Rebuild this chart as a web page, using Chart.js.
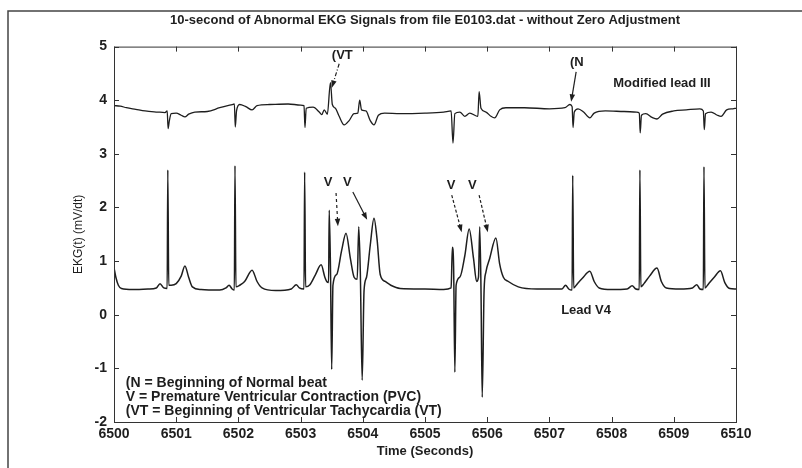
<!DOCTYPE html>
<html>
<head>
<meta charset="utf-8">
<script src="https://cdn.jsdelivr.net/npm/chart.js@4.4.1/dist/chart.umd.min.js"></script>
<style>
  html, body { margin: 0; padding: 0; background: #fff; }
  canvas { display: block; }
</style>
</head>
<body>
<canvas id="ekgChart" width="802" height="468"></canvas>
<script>
// Modified lead III (upper trace)
const leadIIITime = [
  6500.00, 6500.10, 6500.20, 6500.35, 6500.50, 6500.70, 6500.82, 6500.855, 6500.87, 6500.89,
  6500.92, 6501.00, 6501.08, 6501.14, 6501.20, 6501.30, 6501.50, 6501.70, 6501.90, 6501.935,
  6501.95, 6501.97, 6502.02, 6502.12, 6502.22, 6502.30, 6502.50, 6502.80, 6503.00, 6503.055,
  6503.07, 6503.09, 6503.20, 6503.30, 6503.34, 6503.38, 6503.43, 6503.48, 6503.51, 6503.56,
  6503.62, 6503.70, 6503.78, 6503.86, 6503.92, 6503.95, 6503.98, 6504.05, 6504.12, 6504.18,
  6504.25, 6504.35, 6504.60, 6505.00, 6505.30, 6505.42, 6505.45, 6505.48, 6505.56, 6505.64,
  6505.72, 6505.85, 6505.87, 6505.90, 6505.98, 6506.06, 6506.12, 6506.20, 6506.30, 6506.60,
  6507.00, 6507.25, 6507.33, 6507.365, 6507.38, 6507.40, 6507.46, 6507.55, 6507.65, 6507.72,
  6507.90, 6508.20, 6508.40, 6508.445, 6508.46, 6508.48, 6508.55, 6508.65, 6508.73, 6508.82,
  6509.00, 6509.20, 6509.42, 6509.475, 6509.49, 6509.51, 6509.60, 6509.70, 6509.76, 6509.85,
  6509.95, 6510.00
];
const leadIIIValues = [
  3.90, 3.89, 3.86, 3.83, 3.80, 3.78, 3.77, 3.80, 3.47, 3.62,
  3.75, 3.76, 3.72, 3.69, 3.74, 3.78, 3.79, 3.86, 3.92, 3.93,
  3.50, 3.80, 3.92, 3.88, 3.82, 3.90, 3.92, 3.93, 3.91, 3.90,
  3.49, 3.85, 3.87, 3.78, 3.73, 3.82, 3.74, 4.33, 3.92, 3.85,
  3.70, 3.54, 3.62, 3.75, 3.76, 4.00, 3.82, 3.80, 3.62, 3.54,
  3.72, 3.76, 3.75, 3.76, 3.78, 3.80, 3.20, 3.75, 3.78, 3.70,
  3.76, 3.70, 4.16, 3.85, 3.78, 3.70, 3.67, 3.82, 3.86, 3.86,
  3.84, 3.86, 3.92, 3.88, 3.49, 3.78, 3.84, 3.78, 3.67, 3.76,
  3.80, 3.79, 3.78, 3.76, 3.39, 3.72, 3.75, 3.68, 3.65, 3.74,
  3.80, 3.82, 3.84, 3.80, 3.45, 3.75, 3.78, 3.72, 3.70, 3.82,
  3.84, 3.85
];

// Lead V4 (lower trace)
const leadV4Time = [
  6500.00, 6500.03, 6500.07, 6500.12, 6500.30, 6500.55, 6500.68, 6500.74, 6500.80, 6500.855,
  6500.865, 6500.88, 6500.92, 6501.00, 6501.08, 6501.14, 6501.20, 6501.26, 6501.40, 6501.70,
  6501.80, 6501.85, 6501.90, 6501.935, 6501.945, 6501.96, 6502.02, 6502.10, 6502.22, 6502.30,
  6502.38, 6502.60, 6502.85, 6502.93, 6502.98, 6503.055, 6503.065, 6503.08, 6503.15, 6503.24,
  6503.33, 6503.39, 6503.42, 6503.45, 6503.46, 6503.48, 6503.50, 6503.52, 6503.58, 6503.66,
  6503.73, 6503.80, 6503.86, 6503.91, 6503.935, 6503.96, 6503.99, 6504.02, 6504.06, 6504.12,
  6504.18, 6504.23, 6504.28, 6504.36, 6504.45, 6504.60, 6505.00, 6505.30, 6505.42, 6505.44,
  6505.46, 6505.48, 6505.50, 6505.56, 6505.64, 6505.71, 6505.78, 6505.83, 6505.86, 6505.88,
  6505.90, 6505.92, 6505.95, 6505.98, 6506.04, 6506.14, 6506.20, 6506.26, 6506.34, 6506.50,
  6506.80, 6507.20, 6507.26, 6507.31, 6507.365, 6507.375, 6507.39, 6507.45, 6507.53, 6507.65,
  6507.72, 6507.80, 6508.00, 6508.25, 6508.33, 6508.39, 6508.445, 6508.455, 6508.47, 6508.52,
  6508.61, 6508.73, 6508.80, 6508.88, 6509.10, 6509.30, 6509.37, 6509.42, 6509.475, 6509.485,
  6509.50, 6509.56, 6509.65, 6509.75, 6509.82, 6509.90, 6510.00
];
const leadV4Values = [
  0.88, 0.70, 0.55, 0.49, 0.47, 0.48, 0.50, 0.58, 0.50, 0.49,
  2.70, 0.55, 0.55, 0.58, 0.72, 0.91, 0.70, 0.52, 0.47, 0.46,
  0.50, 0.55, 0.48, 0.46, 2.78, 0.52, 0.55, 0.62, 0.83, 0.62,
  0.50, 0.45, 0.48, 0.56, 0.50, 0.48, 2.66, 0.52, 0.56, 0.75,
  0.93, 0.70, 0.62, 0.60, 1.95, 0.90, -1.02, 0.55, 0.75, 1.20,
  1.52, 1.05, 0.70, 0.66, 1.64, 0.80, -1.22, 0.45, 0.70, 1.30,
  1.80, 1.40, 0.75, 0.62, 0.55, 0.49, 0.48, 0.47, 0.50, 1.26,
  0.90, -1.07, 0.55, 0.70, 1.10, 1.60, 1.05, 0.62, 0.70, 1.64,
  0.50, -1.54, 0.45, 0.80, 1.05, 1.43, 0.95, 0.70, 0.62, 0.52,
  0.48, 0.48, 0.55, 0.48, 0.46, 2.60, 0.50, 0.58, 0.68, 0.81,
  0.62, 0.50, 0.47, 0.48, 0.54, 0.48, 0.47, 2.70, 0.52, 0.58,
  0.72, 0.87, 0.62, 0.50, 0.48, 0.50, 0.56, 0.48, 0.47, 2.76,
  0.50, 0.58, 0.70, 0.82, 0.60, 0.49, 0.48
];

const xTickValues = [6500, 6501, 6502, 6503, 6504, 6505, 6506, 6507, 6508, 6509, 6510];
const yTickValues = [-2, -1, 0, 1, 2, 3, 4, 5];

const chartTitle = "10-second of Abnormal EKG Signals from file E0103.dat - without Zero Adjustment";
const legendLines = [
  "(N = Beginning of Normal beat",
  "V = Premature Ventricular Contraction (PVC)",
  "(VT = Beginning of Ventricular Tachycardia (VT)"
];

// text labels placed in data coordinates
const labels = [
  { text: "(VT", x: 6503.67, y: 4.83 },
  { text: "(N", x: 6507.44, y: 4.70 },
  { text: "Modified lead III", x: 6508.81, y: 4.31 },
  { text: "Lead V4", x: 6507.59, y: 0.08 },
  { text: "V", x: 6503.44, y: 2.46 },
  { text: "V", x: 6503.75, y: 2.46 },
  { text: "V", x: 6505.42, y: 2.42 },
  { text: "V", x: 6505.76, y: 2.42 }
];
const arrows = [
  { x0: 6503.62, y0: 4.68, x1: 6503.50, y1: 4.23, dash: [4, 2, 1, 2] },
  { x0: 6507.43, y0: 4.53, x1: 6507.35, y1: 3.97, dash: [] },
  { x0: 6503.57, y0: 2.27, x1: 6503.60, y1: 1.65, dash: [3, 3] },
  { x0: 6503.84, y0: 2.29, x1: 6504.07, y1: 1.77, dash: [] },
  { x0: 6505.43, y0: 2.23, x1: 6505.59, y1: 1.54, dash: [3, 2] },
  { x0: 6505.87, y0: 2.23, x1: 6506.01, y1: 1.54, dash: [3, 2] }
];

const ink = "#1e1e1e";
const fontFamily = "'Liberation Sans', Arial, sans-serif";

// frame, box and inward ticks on all four sides (MATLAB look)
const framePlugin = {
  id: "frame",
  beforeDraw(chart) {
    const { ctx } = chart;
    ctx.save();
    ctx.fillStyle = "#fff";
    ctx.fillRect(0, 0, chart.width, chart.height);
    ctx.strokeStyle = "#444";
    ctx.lineWidth = 1.5;
    ctx.strokeRect(8, 11, chart.width + 20, chart.height + 20);
    ctx.restore();
  },
  afterDatasetsDraw(chart) {
    const { ctx, chartArea: a, scales } = chart;
    ctx.save();
    ctx.strokeStyle = "#333";
    ctx.lineWidth = 1;
    ctx.strokeRect(a.left + 0.5, a.top + 0.5, a.right - a.left, a.bottom - a.top);
    ctx.beginPath();
    xTickValues.forEach(v => {
      const px = Math.round(scales.x.getPixelForValue(v)) + 0.5;
      ctx.moveTo(px, a.bottom); ctx.lineTo(px, a.bottom - 5);
      ctx.moveTo(px, a.top); ctx.lineTo(px, a.top + 5);
    });
    yTickValues.forEach(v => {
      const py = Math.round(scales.y.getPixelForValue(v)) + 0.5;
      ctx.moveTo(a.left, py); ctx.lineTo(a.left + 5, py);
      ctx.moveTo(a.right, py); ctx.lineTo(a.right - 5, py);
    });
    ctx.stroke();
    ctx.restore();
  }
};

const notesPlugin = {
  id: "notes",
  afterDatasetsDraw(chart) {
    const { ctx, scales } = chart;
    const sx = v => scales.x.getPixelForValue(v);
    const sy = v => scales.y.getPixelForValue(v);
    ctx.save();
    ctx.fillStyle = ink;
    ctx.strokeStyle = ink;
    ctx.font = "bold 13px " + fontFamily;
    ctx.textAlign = "center";
    ctx.textBaseline = "middle";
    labels.forEach(l => ctx.fillText(l.text, sx(l.x), sy(l.y)));

    arrows.forEach(a => {
      const x0 = sx(a.x0), y0 = sy(a.y0), x1 = sx(a.x1), y1 = sy(a.y1);
      const ang = Math.atan2(y1 - y0, x1 - x0);
      ctx.lineWidth = 1.2;
      ctx.setLineDash(a.dash);
      ctx.beginPath();
      ctx.moveTo(x0, y0);
      ctx.lineTo(x1 - 6 * Math.cos(ang), y1 - 6 * Math.sin(ang));
      ctx.stroke();
      ctx.setLineDash([]);
      ctx.beginPath();
      ctx.moveTo(x1, y1);
      ctx.lineTo(x1 - 8 * Math.cos(ang - 0.35), y1 - 8 * Math.sin(ang - 0.35));
      ctx.lineTo(x1 - 8 * Math.cos(ang + 0.35), y1 - 8 * Math.sin(ang + 0.35));
      ctx.closePath();
      ctx.fill();
    });

    ctx.font = "bold 14px " + fontFamily;
    ctx.textAlign = "left";
    legendLines.forEach((line, i) => {
      ctx.fillText(line, sx(6500.19), sy(-1.28 - i * 0.255));
    });
    ctx.restore();
  }
};

Chart.defaults.font.family = fontFamily;
Chart.defaults.color = ink;

const toPoints = (xs, ys) => xs.map((x, i) => ({ x, y: ys[i] }));

new Chart(document.getElementById("ekgChart").getContext("2d"), {
  type: "line",
  data: {
    datasets: [
      {
        label: "Modified lead III",
        data: toPoints(leadIIITime, leadIIIValues),
        borderColor: ink,
        borderWidth: 1.3
      },
      {
        label: "Lead V4",
        data: toPoints(leadV4Time, leadV4Values),
        borderColor: ink,
        borderWidth: 1.5
      }
    ]
  },
  options: {
    responsive: false,
    animation: false,
    devicePixelRatio: 1,
    elements: { point: { radius: 0 }, line: { cubicInterpolationMode: "monotone" } },
    layout: { padding: { left: 60, right: 66, top: 0, bottom: 0 } },
    plugins: {
      legend: { display: false },
      tooltip: { enabled: false },
      title: {
        display: true,
        text: chartTitle,
        fullSize: false,
        color: ink,
        font: { size: 13, weight: "bold" },
        padding: { top: 13, bottom: 18 }
      }
    },
    scales: {
      x: {
        type: "linear",
        min: 6500,
        max: 6510,
        afterFit: s => { s.height = 46; },
        afterBuildTicks: s => { s.ticks = xTickValues.map(v => ({ value: v })); },
        ticks: { padding: 4, font: { size: 14, weight: "bold" }, callback: v => String(v), maxRotation: 0 },
        grid: { display: false, drawTicks: false },
        border: { display: false },
        title: {
          display: true,
          text: "Time (Seconds)",
          font: { size: 13, weight: "bold" },
          padding: { top: 0, bottom: 9 }
        }
      },
      y: {
        min: -2,
        max: 5,
        afterFit: s => { s.width = 54; },
        afterBuildTicks: s => { s.ticks = yTickValues.map(v => ({ value: v })); },
        ticks: { padding: 7, font: { size: 14, weight: "bold" }, callback: v => String(v) },
        grid: { display: false, drawTicks: false },
        border: { display: false },
        title: {
          display: true,
          text: "EKG(t) (mV/dt)",
          font: { size: 12 },
          padding: { top: 11, bottom: 0 }
        }
      }
    }
  },
  plugins: [framePlugin, notesPlugin]
});
</script>
</body>
</html>
